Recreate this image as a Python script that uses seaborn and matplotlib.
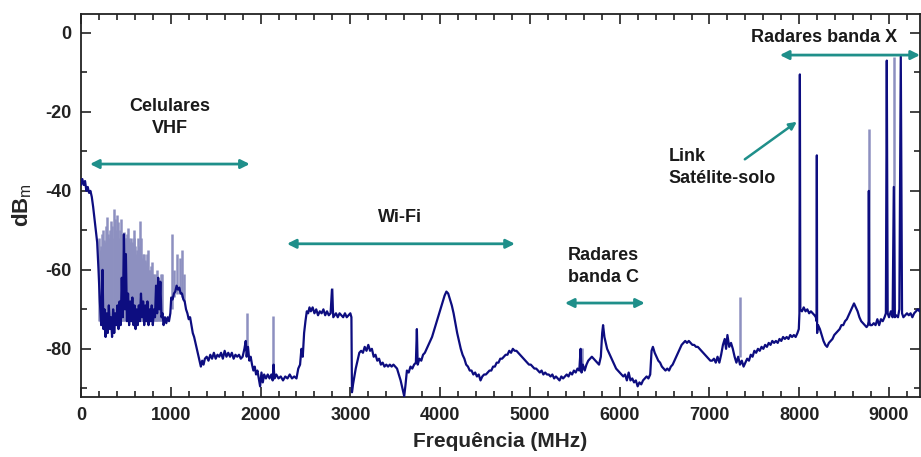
import matplotlib
matplotlib.use("Agg")
import matplotlib.pyplot as plt
from matplotlib.ticker import MultipleLocator
import seaborn as sns

# main (dark) trace
freq = [
    0, 15, 30, 45, 60, 75, 90, 105, 120, 135, 150, 165, 180, 195, 210, 225,
    240, 250, 262, 274, 286, 298, 310, 322, 334, 346, 358, 370, 382, 394, 406, 418,
    430, 442, 454, 466, 478, 490, 500, 512, 524, 536, 548, 560, 572, 584, 596, 608,
    620, 632, 644, 656, 668, 680, 692, 704, 716, 728, 740, 752, 764, 776, 788, 800,
    812, 824, 836, 848, 860, 872, 884, 896, 908, 920, 935, 950, 965, 980, 995, 1005,
    1020, 1035, 1050, 1065, 1080, 1095, 1110, 1125, 1140, 1155, 1170, 1185, 1200, 1215, 1230, 1245,
    1260, 1275, 1290, 1305, 1320, 1335, 1350, 1365, 1380, 1400, 1420, 1440, 1460, 1480, 1500, 1520,
    1540, 1560, 1580, 1600, 1620, 1640, 1660, 1680, 1700, 1720, 1740, 1760, 1780, 1800, 1820, 1835,
    1845, 1860, 1875, 1890, 1905, 1920, 1935, 1950, 1965, 1980, 1995, 2010, 2025, 2040, 2060, 2080,
    2100, 2120, 2135, 2145, 2155, 2175, 2200, 2225, 2250, 2275, 2300, 2325, 2350, 2375, 2400, 2420,
    2440, 2455, 2470, 2485, 2500, 2515, 2530, 2545, 2560, 2580, 2600, 2620, 2640, 2660, 2680, 2700,
    2720, 2740, 2760, 2780, 2795, 2810, 2840, 2860, 2880, 2900, 2920, 2940, 2960, 2980, 3000, 3012,
    3018, 3030, 3045, 3060, 3080, 3100, 3120, 3140, 3160, 3180, 3200, 3220, 3240, 3260, 3280, 3300,
    3320, 3340, 3360, 3380, 3400, 3420, 3440, 3460, 3480, 3500, 3520, 3540, 3560, 3580, 3600, 3615,
    3630, 3650, 3670, 3690, 3710, 3730, 3741, 3750, 3770, 3790, 3810, 3830, 3850, 3870, 3890, 3910,
    3930, 3950, 3970, 3990, 4010, 4030, 4050, 4070, 4090, 4110, 4130, 4150, 4170, 4190, 4210, 4230,
    4250, 4270, 4290, 4310, 4330, 4350, 4370, 4390, 4410, 4430, 4450, 4470, 4490, 4510, 4530, 4550,
    4570, 4590, 4610, 4630, 4650, 4670, 4690, 4710, 4730, 4750, 4770, 4790, 4810, 4830, 4850, 4870,
    4890, 4910, 4930, 4950, 4970, 4990, 5010, 5030, 5050, 5070, 5090, 5110, 5130, 5150, 5170, 5190,
    5210, 5230, 5250, 5270, 5290, 5310, 5330, 5350, 5370, 5390, 5410, 5430, 5450, 5470, 5490, 5510,
    5530, 5550, 5565, 5575, 5590, 5610, 5630, 5650, 5670, 5690, 5710, 5730, 5750, 5770, 5790, 5805,
    5815, 5830, 5845, 5860, 5880, 5900, 5920, 5940, 5960, 5980, 6000, 6020, 6040, 6060, 6080, 6100,
    6120, 6140, 6160, 6180, 6200, 6220, 6240, 6260, 6280, 6300, 6320, 6340, 6355, 6370, 6390, 6410,
    6430, 6450, 6470, 6490, 6510, 6530, 6550, 6570, 6590, 6610, 6630, 6650, 6670, 6690, 6710, 6730,
    6750, 6770, 6790, 6810, 6830, 6850, 6870, 6890, 6910, 6930, 6950, 6970, 6990, 7010, 7030, 7050,
    7070, 7090, 7110, 7130, 7150, 7170, 7185, 7200, 7220, 7240, 7260, 7280, 7300, 7320, 7340, 7360,
    7380, 7400, 7420, 7440, 7460, 7480, 7500, 7520, 7540, 7560, 7580, 7600, 7620, 7640, 7660, 7680,
    7700, 7720, 7740, 7760, 7780, 7800, 7820, 7840, 7860, 7880, 7900, 7920, 7940, 7960, 7980, 7995,
    8002, 8007, 8012, 8030, 8050, 8070, 8090, 8110, 8130, 8150, 8170, 8185, 8193, 8196, 8199, 8210,
    8230, 8250, 8270, 8290, 8310, 8330, 8350, 8370, 8390, 8410, 8430, 8450, 8470, 8490, 8510, 8530,
    8550, 8570, 8590, 8610, 8630, 8650, 8670, 8690, 8710, 8730, 8750, 8765, 8773, 8775, 8778, 8790,
    8810, 8830, 8850, 8870, 8890, 8910, 8930, 8950, 8965, 8975, 8985, 9000, 9020, 9040, 9053, 9065,
    9080, 9100, 9115, 9131, 9145, 9160, 9180, 9200, 9220, 9240, 9260, 9280, 9300, 9320, 9340, 9360,
]
dbm = [
    -38.5, -37, -38.5, -37.5, -40, -39, -40.5, -40, -41.5, -44, -47, -50, -53, -60, -68, -74,
    -60, -75, -70, -77, -71, -76, -69, -75, -72, -77, -70, -76, -71, -74, -69, -75,
    -68, -74, -62, -72, -51, -70, -56, -73, -66, -74, -68, -73, -67, -74, -69, -75,
    -70, -74, -69, -73, -66, -72, -68, -74, -69, -73, -68, -74, -70, -73, -69, -74,
    -70, -72, -64, -71, -62, -70, -63, -72, -71, -74, -72, -73.5, -72, -73, -71, -67,
    -67.5, -66, -65.5, -64, -65, -64.5, -66, -66, -67.5, -68, -70, -71, -72.5, -72, -74, -76,
    -77, -78.5, -80, -81.5, -83, -84.5, -83, -84, -82.5, -82, -83, -81.5, -82.5, -81, -82.5, -81.5,
    -82, -81, -82.5, -80.5, -82, -81, -82, -81, -82.5, -81.5, -82, -81.5, -82.5, -82, -80, -78,
    -82, -79.5, -83, -82, -84, -85.5, -84.5, -86.5, -85.5, -87.5, -89.5, -86, -88.5, -86.5, -87.5, -86.5,
    -87.5, -86.5, -88, -84, -87.5, -86.5, -87.5, -87, -88, -87, -87.5, -86.5, -87.5, -87, -87.5, -85,
    -84, -80, -82, -76, -73, -70.5, -71, -69.5, -70.5, -69.5, -71, -70, -71.5, -70.5, -71, -70,
    -71.5, -70.5, -71.5, -71, -65, -72, -71, -72, -71, -71.5, -72, -71, -72, -71.5, -71, -72,
    -91, -89, -87, -85, -83, -81, -80.5, -81, -79.5, -80.5, -79, -80.5, -80, -82, -81.5, -83,
    -82.5, -84, -83.5, -84.5, -84, -84.5, -84, -84.5, -84, -84.5, -85, -86.5, -88, -90, -92, -89,
    -85.5, -86, -84.5, -85, -84, -83.5, -75, -84, -82.5, -83, -81.5, -81, -80, -79, -78, -77,
    -75.5, -74, -72.5, -71, -69.5, -68, -66.5, -65.5, -66, -67.5, -69, -71, -73.5, -76, -78, -80,
    -81.5, -82.5, -84, -84.5, -85.5, -85.5, -86.5, -86, -87, -86.5, -88, -87, -86.5, -86.5, -86, -85.5,
    -85.5, -84.5, -84.5, -83.5, -83.5, -82.5, -82.5, -82, -81.5, -81.5, -80.5, -81, -80, -80.5, -80.5, -81,
    -81.5, -82, -82.5, -83, -83.5, -84, -84, -84.5, -85, -85, -85.5, -86, -85.5, -86.5, -86, -86.5,
    -86.5, -87, -86.5, -87.5, -87, -87.5, -88, -87, -87.5, -87, -86.5, -87, -86, -86.5, -85.5, -86,
    -85, -85.5, -80, -86, -84, -85.5, -84, -83, -82.5, -82, -82.5, -83, -83.5, -84, -82, -76,
    -74, -77, -78.5, -80, -81, -82, -83, -84, -85, -85.5, -86, -86.5, -87, -86.5, -88, -86,
    -88, -87.5, -88.5, -88, -89.5, -88.5, -89, -88, -87.5, -87, -87.5, -86.5, -80.5, -79.5, -81, -82,
    -83, -83.5, -84.5, -85, -85.5, -85, -85.5, -84.5, -84, -83, -82, -81, -80, -79, -78.5, -78,
    -78.5, -78, -78.5, -79, -79, -79.5, -79.5, -80, -80.5, -81, -81.5, -82, -82.5, -83, -83, -82.5,
    -83.5, -82, -83.5, -81.5, -79, -77.5, -80, -76.5, -79.5, -78.5, -80, -82, -83.5, -82, -84, -83,
    -84.5, -83.5, -82.5, -83, -81.5, -82, -80.5, -81, -80, -80.5, -79.5, -80, -79, -79.5, -78.5, -79,
    -78, -78.5, -78, -78.5, -77.5, -78, -77, -77.5, -77, -77.5, -76.5, -77, -76.5, -77, -76, -75,
    -71, -10.5, -70, -70.5, -69.5, -70.5, -70, -71, -70.5, -71, -71.5, -72, -73, -31, -76, -74,
    -75, -76.5, -78, -79, -79.5, -78.5, -78, -77.5, -76.5, -76, -75.5, -75, -74, -74, -73, -72.5,
    -71.5, -70.5, -69.5, -68.5, -69.5, -70.5, -72, -73, -73.5, -74, -74.5, -74, -73, -40, -73, -74,
    -74, -73.5, -74, -72.5, -74, -72.5, -73, -72, -71, -7, -71, -72, -70.5, -72, -39, -72,
    -71.5, -72, -70, -6, -71, -72, -71.5, -71, -71.5, -71, -72, -71, -70.5, -70, -70.5, -69.5,
]

# light (faint) spikes: position, upper end, lower end
spike_freq = [200, 215, 225, 235, 245, 255, 270, 280, 290, 300, 310, 320, 330, 340, 350, 365,
              375, 385, 392, 400, 410, 420, 430, 440, 450, 460, 470, 480, 490, 500, 510, 520,
              530, 540, 548, 555, 565, 575, 585, 595, 605, 615, 625, 635, 645, 655, 665, 675,
              682, 690, 700, 710, 720, 730, 740, 750, 760, 770, 780, 790, 800, 810, 820, 830,
              840, 850, 860, 870, 880, 890, 905, 1013, 1040, 1069, 1100, 1125, 1150, 1848,
              2140, 2795, 5579, 7340, 8775, 9053]
spike_high = [-52, -55, -54, -51, -50, -52.5, -53, -49, -46.5, -51, -52, -50, -47.5, -49, -52, -44.5,
              -47, -51, -50, -46, -48, -52, -50, -47, -51, -53, -52, -50.5, -52, -52, -51, -49.5,
              -52, -54, -53, -52, -53, -53.5, -52, -50, -54, -56, -55, -52, -54, -47.5, -52, -58,
              -57, -56, -56, -57.5, -59, -56, -58, -55, -60, -60, -59, -58, -61, -61, -62, -62,
              -61, -60, -63, -64, -63, -61, -61, -51, -60, -56, -57, -55, -61, -71,
              -71.7, -64.6, -79.7, -67, -24.3, -6.1]
spike_low = [-73] * 71 + [-70, -67, -66, -66, -67, -68, -81, -86, -71, -85, -82, -73, -72]

# annotation texts and positions (MHz, dBm)
band_labels = ["Celulares\nVHF", "Wi-Fi", "Radares\nbanda C", "Radares banda X"]
band_span = [(100, 1880), (2294, 4833), (5390, 6280), (7784, 9345)]
band_arrow_y = [-33.2, -53.4, -68.4, -5.6]
band_text_xy = [(990, -21.5), (3552, -46.8), (5420, -59.2), (7461, -1.2)]
band_text_ha = ["center", "center", "left", "left"]

navy = "#0d0d80"
light = "#8d90c0"
teal = "#1f8f8a"

sns.set_style("ticks")
plt.rcParams["font.family"] = ["Liberation Sans", "DejaVu Sans"]
plt.rcParams["axes.unicode_minus"] = False
plt.rcParams["mathtext.fontset"] = "custom"
plt.rcParams["mathtext.rm"] = "Liberation Sans"
plt.rcParams["mathtext.bf"] = "Liberation Sans:bold"

fig = plt.figure(figsize=(9.21, 4.57), dpi=100)
ax = fig.add_axes([81 / 921, 1 - 397 / 457, 839 / 921, 383 / 457])

ax.vlines(spike_freq, spike_low, spike_high, color=light, lw=1.8, zorder=2)
sns.lineplot(x=freq, y=dbm, ax=ax, color=navy, lw=1.6, estimator=None, zorder=3)

ax.set_xlim(0, 9345)
ax.set_ylim(-92.2, 4.8)
ax.xaxis.set_major_locator(MultipleLocator(1000))
ax.xaxis.set_minor_locator(MultipleLocator(200))
ax.yaxis.set_major_locator(MultipleLocator(20))
ax.yaxis.set_minor_locator(MultipleLocator(10))
ax.tick_params(which="both", direction="in", top=True, right=True, width=1.2, colors="#222222")
ax.tick_params(which="major", length=7, labelsize=13, pad=7)
ax.tick_params(which="minor", length=4)
for lab in ax.get_xticklabels() + ax.get_yticklabels():
    lab.set_fontweight("bold")
for sp in ax.spines.values():
    sp.set_linewidth(1.3)
    sp.set_color("#222222")

ax.set_xlabel("Frequência (MHz)", fontsize=15, fontweight="bold", labelpad=6)
ax.set_ylabel(r"dB$_\mathrm{m}$", fontsize=16, fontweight="bold", labelpad=8)

for lab, (x0, x1), yy, (tx, ty), ha in zip(band_labels, band_span, band_arrow_y, band_text_xy, band_text_ha):
    ax.annotate("", xy=(x1, yy), xytext=(x0, yy),
                arrowprops=dict(arrowstyle="<|-|>", color=teal, lw=2, mutation_scale=13,
                                shrinkA=0, shrinkB=0), annotation_clip=False)
    ax.text(tx, ty, lab, ha=ha, va="center", fontsize=13, fontweight="bold",
            color="#1a1a1a", linespacing=1.4)

ax.text(6548, -34, "Link\nSatélite-solo", ha="left", va="center", fontsize=13,
        fontweight="bold", color="#1a1a1a", linespacing=1.4)
ax.annotate("", xy=(7973, -22.5), xytext=(7394, -32),
            arrowprops=dict(arrowstyle="-|>", color=teal, lw=1.8, mutation_scale=11,
                            shrinkA=0, shrinkB=0))

fig.savefig("out.png", dpi=100)
